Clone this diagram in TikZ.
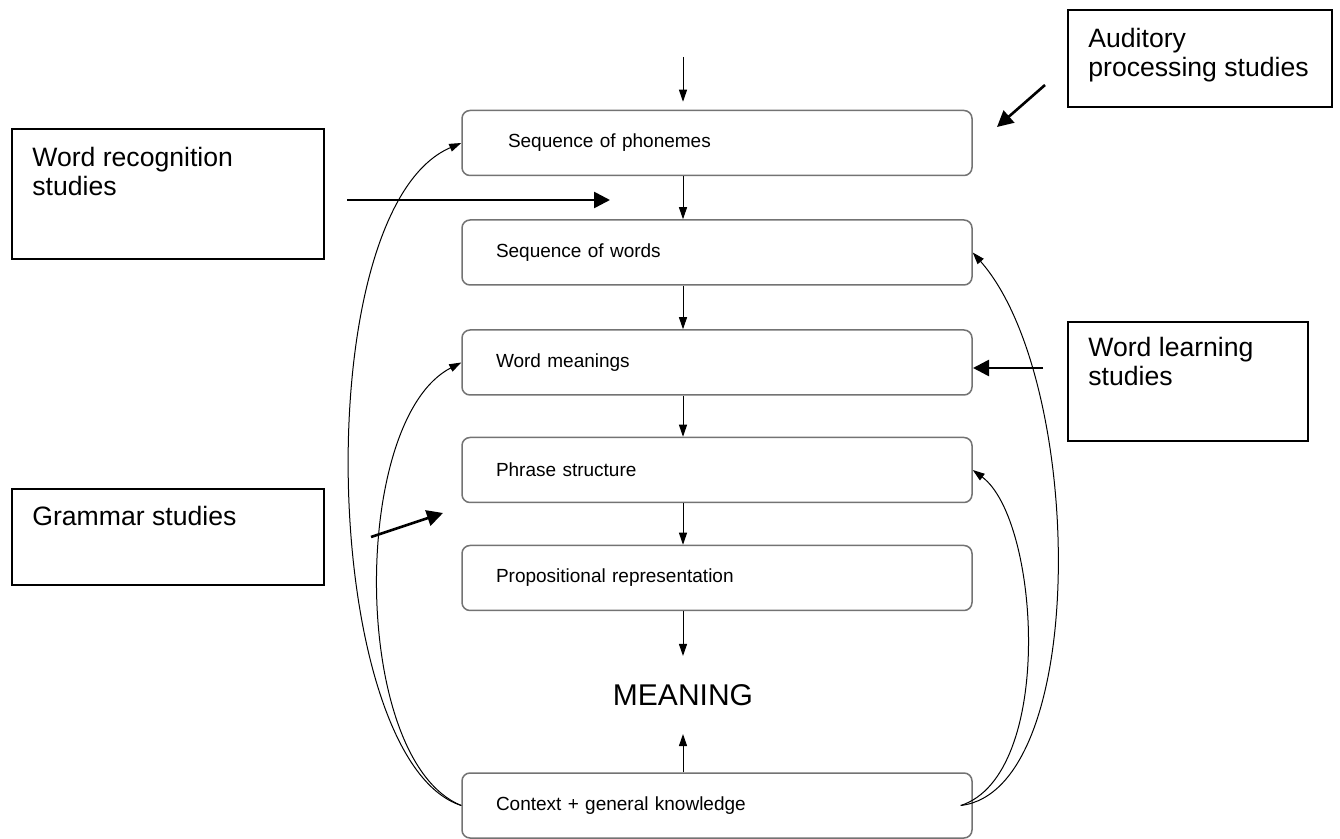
\documentclass[tikz,border=0pt]{standalone}
\usepackage{fontspec}
\setmainfont{Liberation Sans}
\usetikzlibrary{positioning, arrows.meta}

\begin{document}
\begin{tikzpicture}[x=0.5pt, y=-0.5pt]
    % Styles
    \tikzstyle{stage} = [draw=black!55, line width=0.75pt, rounded corners=4pt, minimum height=32.5pt, text width=221pt, inner xsep=17pt, align=left, font=\fontsize{9.5}{11}\selectfont]
    \tikzstyle{study} = [draw, line width=1pt, anchor=north west, inner sep=0pt]
    \tikzstyle{study text} = [align=left, inner sep=0pt, font=\fontsize{13.3}{14.3}\selectfont]
    \tikzstyle{flow} = [-{Triangle[length=6pt, width=4pt]}, line width=0.5pt]
    \tikzstyle{feed} = [flow]
    \tikzstyle{pointer} = [-{Triangle[length=8pt, width=8pt]}, line width=1.3pt]

    \useasboundingbox (0,0) rectangle (1340,839);

    % Stages
    \node[stage, inner xsep=23pt, text width=209pt] (phon) at (717,143) {Sequence of phonemes};
    \node[stage] (words) at (717,252.5) {Sequence of words};
    \node[stage] (mean) at (717,362.5) {Word meanings};
    \node[stage] (phr) at (717,470) {Phrase structure};
    \node[stage] (prop) at (717,578) {Propositional representation};
    \node[font=\fontsize{15}{18}\selectfont, inner ysep=14pt] (meaning) at (683,695) {MEANING};
    \node[stage] (ctx) at (717,805.5) {Context + general knowledge};

    % Study boxes
    \node[study, minimum width=156pt, minimum height=65pt] (wrbox) at (11,128) {};
    \node[study text, below right=9.5pt and 10.5pt of wrbox.north west] (wrtext) {Word recognition\\studies};
    \node[study, minimum width=156pt, minimum height=48pt] (grbox) at (11,488) {};
    \node[study text, below right=9pt and 10.5pt of grbox.north west] (grtext) {Grammar studies};
    \node[study, minimum width=132pt, minimum height=48.5pt] (aubox) at (1067,9) {};
    \node[study text, below right=9.5pt and 10.5pt of aubox.north west] (autext) {Auditory\\processing studies};
    \node[study, minimum width=120pt, minimum height=59.5pt] (wlbox) at (1067,321) {};
    \node[study text, below right=8pt and 10.5pt of wlbox.north west] (wltext) {Word learning\\studies};

    % Free ends
    \coordinate (start) at (683,57);
    \coordinate (wr1) at (347,200);
    \coordinate (wr2) at (610,200);
    \coordinate (au1) at (1045,85);
    \coordinate (au2) at (997,127);
    \coordinate (wl1) at (1043,368);
    \coordinate (wl2) at (973,368);
    \coordinate (gr1) at (371,537);
    \coordinate (gr2) at (443,513);

    % Edges
    \draw[flow, shorten >=4pt] (start) -- (phon.north -| start);
    \draw[flow] (phon.south -| start) -- (words.north -| start);
    \draw[flow] (words.south -| start) -- (mean.north -| start);
    \draw[flow] (mean.south -| start) -- (phr.north -| start);
    \draw[flow] (phr.south -| start) -- (prop.north -| start);
    \draw[flow] (prop.south -| start) -- (meaning.north);
    \draw[flow] (ctx.north -| start) -- (meaning.south);

    % Feedback from context
    \draw[feed] (ctx.west) .. controls (320,760) and (305,210) .. (phon.west);
    \draw[feed] (ctx.west) .. controls (350,760) and (350,420) .. (mean.west);
    \draw[feed] ([xshift=-6pt]ctx.east) .. controls (1090,790) and (1085,380) .. (words.east);
    \draw[feed] ([xshift=-6pt]ctx.east) .. controls (1055,775) and (1040,520) .. (phr.east);

    % Study pointers
    \draw[pointer] (wr1) -- (wr2);
    \draw[pointer] (au1) -- (au2);
    \draw[pointer] (wl1) -- (wl2);
    \draw[pointer] (gr1) -- (gr2);
\end{tikzpicture}
\end{document}
